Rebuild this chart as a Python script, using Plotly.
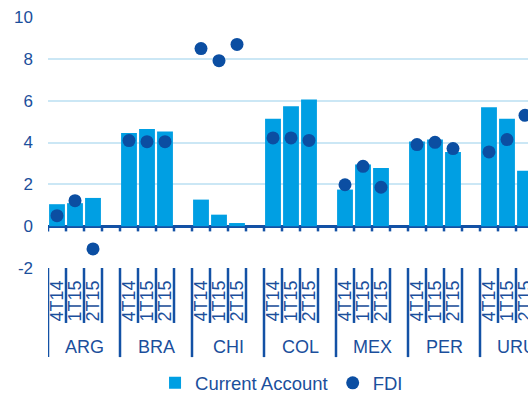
import plotly.graph_objects as go

# Countries and quarters on the category axis
countries = ["ARG", "BRA", "CHI", "COL", "MEX", "PER", "URU"]
quarters = ["4T14", "1T15", "2T15"]

# Series values (% of GDP), ordered country by country, quarter by quarter
current_account = [1.05, 1.10, 1.35,
                   4.46, 4.65, 4.53,
                   1.27, 0.55, 0.15,
                   5.14, 5.73, 6.05,
                   1.75, 2.95, 2.78,
                   4.05, 4.14, 3.55,
                   5.68, 5.14, 2.65]
fdi = [0.50, 1.22, -1.09,
       4.09, 4.04, 4.04,
       8.49, 7.91, 8.69,
       4.22, 4.22, 4.10,
       1.98, 2.86, 1.86,
       3.90, 4.01, 3.71,
       3.55, 4.14, 5.30]

y_ticks = [-2, 0, 2, 4, 6, 8, 10]
y_labels = ["-2", "0", "2", "4", "6", "8", "10"]

BAR = "#009FE3"
DOT = "#0B4EA2"
TXT = "#1B4F9C"
GRID = "#CBE7F5"
AXIS = "#1351A5"
FONT = "Arial, Liberation Sans, sans-serif"

# Each country gets its three quarters plus one empty slot as a spacer
slots = []
for c in countries:
    slots += [f"{c} {q}" for q in quarters] + [f"{c} "]
x_keys = [f"{c} {q}" for c in countries for q in quarters]
group = len(quarters) + 1

fig = go.Figure()
fig.add_bar(x=x_keys, y=current_account, name="Current Account",
            marker=dict(color=BAR, line=dict(width=0)))
fig.add_scatter(x=x_keys, y=fdi, mode="markers", name="FDI",
                marker=dict(color=DOT, size=13))

shapes = []
annotations = []
for i in range(len(slots) + 1):
    b = i - 0.5
    # small ticks hanging from the zero line
    shapes.append(dict(type="line", xref="x", yref="y", x0=b, x1=b, y0=0, y1=-0.25,
                       line=dict(color=AXIS, width=2.5), layer="above"))
    # dividers between quarter labels; longer ones split the countries
    is_group_edge = (i % group == 0)
    shapes.append(dict(type="line", xref="x", yref="paper", x0=b, x1=b, y0=0,
                       y1=-0.355 if is_group_edge else -0.219,
                       line=dict(color=AXIS, width=2.5), layer="above"))

for k, c in enumerate(countries):
    annotations.append(dict(text=c, xref="x", yref="paper", x=k * group + (group - 1) / 2,
                            y=-0.315, showarrow=False, xanchor="center", yanchor="middle",
                            font=dict(family=FONT, size=18, color=TXT)))

fig.update_layout(
    width=528, height=398,
    margin=dict(l=48, r=0, t=17, b=130, autoexpand=False),
    paper_bgcolor="white", plot_bgcolor="white",
    bargap=0.12,
    showlegend=True,
    legend=dict(orientation="h", x=0.223, xanchor="left", y=-0.535, yanchor="bottom",
                font=dict(family=FONT, size=18.5, color=TXT), itemwidth=30,
                bgcolor="rgba(0,0,0,0)"),
    shapes=shapes,
    annotations=annotations,
    font=dict(family=FONT, size=17, color=TXT),
)
fig.update_xaxes(type="category", categoryorder="array", categoryarray=slots,
                 range=[-0.5, (480 / 18) - 0.5], automargin=False,
                 tickmode="array", tickvals=x_keys, ticktext=[q for c in countries for q in quarters],
                 tickangle=-90, ticks="", showgrid=False, zeroline=False, showline=False,
                 ticklabelstandoff=8,
                 tickfont=dict(family=FONT, size=18, color=TXT))
fig.update_yaxes(range=[-2, 10], tickmode="array", tickvals=y_ticks, ticktext=y_labels,
                 showgrid=True, gridcolor=GRID, gridwidth=1.5, automargin=False,
                 zeroline=True, zerolinecolor=AXIS, zerolinewidth=3, showline=False,
                 ticks="", ticklabelstandoff=14,
                 tickfont=dict(family=FONT, size=17, color=TXT))

fig.write_html("out.html", config={"displayModeBar": False})
